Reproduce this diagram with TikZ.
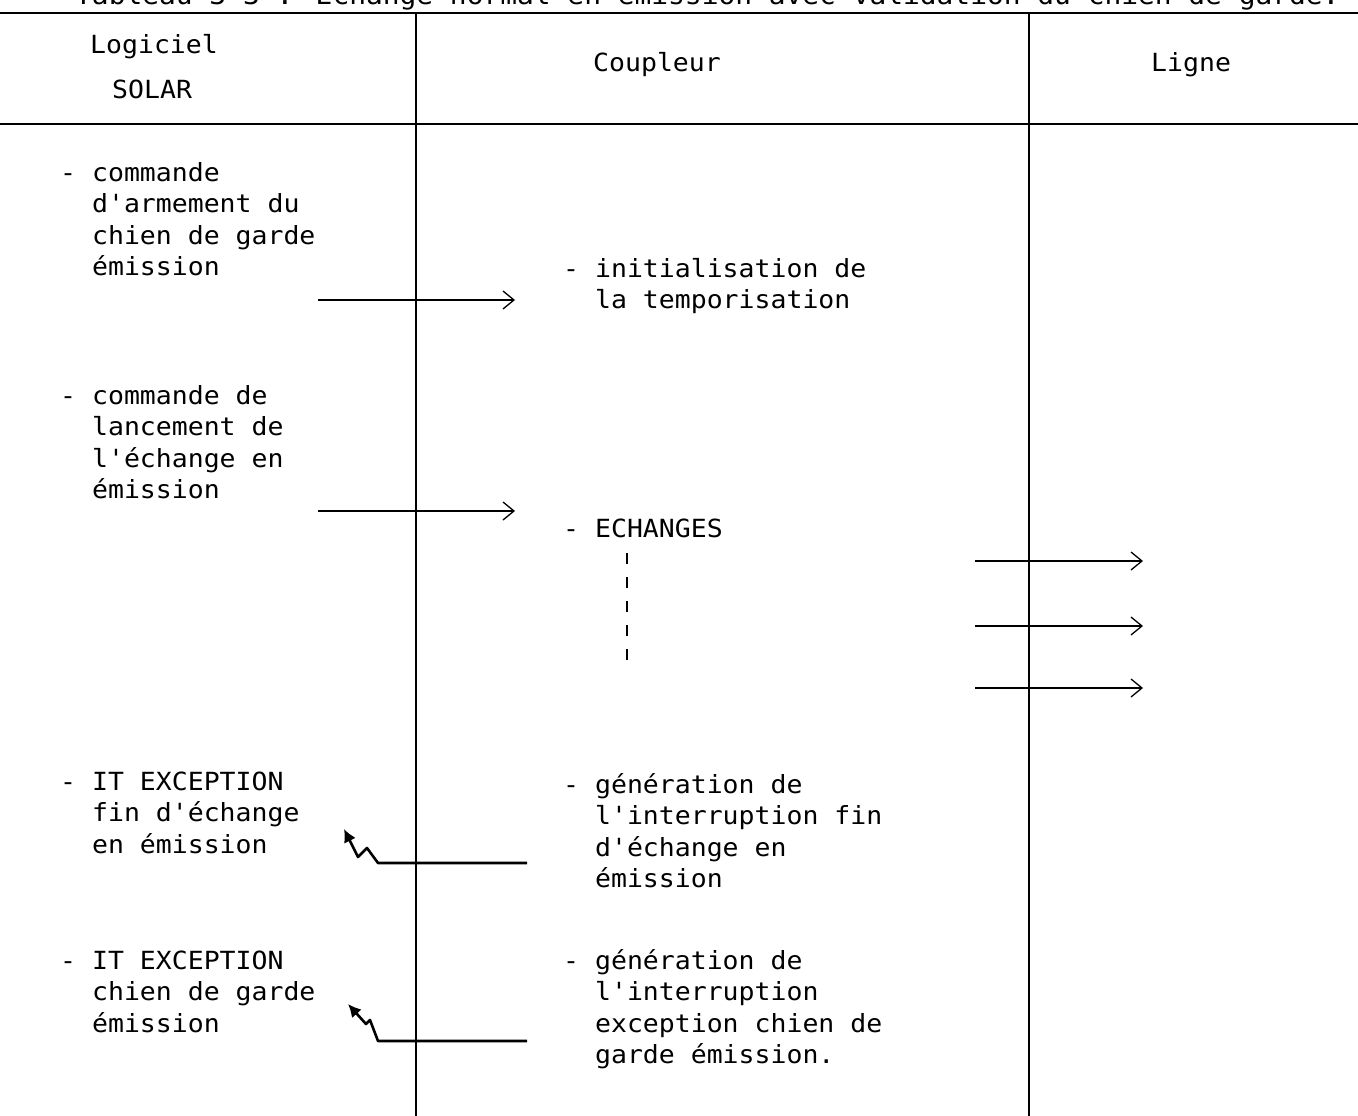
\documentclass[tikz,border=0pt]{standalone}
\usepackage{fontspec}
\newfontfamily\machine[FakeStretch=1.06]{DejaVu Sans Mono}
\usetikzlibrary{arrows.meta}

\newcommand{\retrait}{\hphantom{-~}}

\begin{document}
\begin{tikzpicture}[
  x=1pt, y=-1pt,
  txt/.style={anchor=base west, inner sep=0pt, align=left,
              font=\machine\fontsize{25}{31.5}\selectfont},
  filet/.style={line width=1.1pt},
  gros/.style={line width=2.2pt},
  arr/.style={line width=2.4pt, -{Straight Barb[length=11pt,width=18pt,line width=1.3pt]}},
  itarr/.style={line width=2.6pt, line join=round, -{Latex[length=13pt,width=13pt]}},
  suite/.style={line width=1.6pt, dash pattern=on 11pt off 13pt}
]
\clip (0,0) rectangle (1358,1116);
\useasboundingbox (0,0) rectangle (1358,1116);

% titre (coupe en haut)
\node[txt, font=\machine\fontsize{26.3}{30}\selectfont] (titre) at (75,5)
  {Tableau 3-3 : Echange normal en émission avec validation du chien de garde.};

% cadre du tableau
\draw[gros] (0,13) -- (1358,13);
\draw[gros] (0,124) -- (1358,124);
\draw[filet] (416,13) -- (416,1116);
\draw[filet] (1029,13) -- (1029,1116);

% en-tetes
\node[txt] (logi) at (90,54) {Logiciel};
\node[txt] (solar) at (112,99) {SOLAR};
\node[txt] (coup) at (593,71) {Coupleur};
\node[txt] (ligne) at (1151,71) {Ligne};

% colonne logiciel (ancre = ligne de base de la derniere ligne)
\node[txt] (armt) at (60,275.5) {-~commande\\\retrait d'armement du\\\retrait chien de garde\\\retrait émission};
\node[txt] (lanc) at (60,498.5) {-~commande de\\\retrait lancement de\\\retrait l'échange en\\\retrait émission};
\node[txt] (itfin) at (60,853) {-~IT EXCEPTION\\\retrait fin d'échange\\\retrait en émission};
\node[txt] (itcg) at (60,1032) {-~IT EXCEPTION\\\retrait chien de garde\\\retrait émission};

% colonne coupleur
\node[txt] (init) at (563,308.5) {-~initialisation de\\\retrait la temporisation};
\node[txt] (ech) at (563,537) {-~ECHANGES};
\node[txt] (genfin) at (563,887.5) {-~génération de\\\retrait l'interruption fin\\\retrait d'échange en\\\retrait émission};
\node[txt] (gencg) at (563,1063.5) {-~génération de\\\retrait l'interruption\\\retrait exception chien de\\\retrait garde émission.};

% points d'accroche
\coordinate (a1s) at (318,300);  \coordinate (a1e) at (515,300);
\coordinate (a2s) at (318,511);  \coordinate (a2e) at (515,511);
\coordinate (l1s) at (975,561);  \coordinate (l1e) at (1143,561);
\coordinate (l2s) at (975,626);  \coordinate (l2e) at (1143,626);
\coordinate (l3s) at (975,688);  \coordinate (l3e) at (1143,688);
\coordinate (i1s) at (527,863);  \coordinate (i1e) at (344,829);
\coordinate (i2s) at (527,1041); \coordinate (i2e) at (348,1004);
\coordinate (ech1) at (627,553); \coordinate (ech2) at (627,668);

% commandes vers le coupleur
\draw[arr] (a1s) -- (a1e);
\draw[arr] (a2s) -- (a2e);
% echanges sur la ligne
\draw[arr] (l1s) -- (l1e);
\draw[arr] (l2s) -- (l2e);
\draw[arr] (l3s) -- (l3e);
\draw[suite] (ech1) -- (ech2);

% interruptions vers le logiciel
\draw[itarr] (i1s) -- ++(-149,0) -- ++(-11,-15) -- ++(-9,9) -- (i1e);
\draw[itarr] (i2s) -- ++(-149,0) -- ++(-8,-21) -- ++(-4,4) -- (i2e);
\end{tikzpicture}
\end{document}
